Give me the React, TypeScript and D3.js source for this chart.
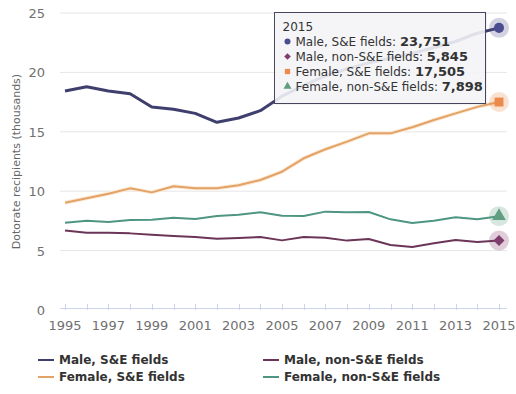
import React, { useEffect, useRef } from "react";
import * as d3 from "d3";

const years = [1995, 1996, 1997, 1998, 1999, 2000, 2001, 2002, 2003, 2004, 2005, 2006, 2007, 2008, 2009, 2010, 2011, 2012, 2013, 2014, 2015];

// thousands of doctorate recipients
const maleSE = [18.43, 18.8, 18.43, 18.2, 17.09, 16.9, 16.55, 15.8, 16.16, 16.78, 18.0, 18.9, 19.7, 20.3, 20.8, 21.2, 21.6, 22.1, 22.6, 23.3, 23.751];
const maleNonSE = [6.7, 6.51, 6.51, 6.45, 6.34, 6.23, 6.14, 6.0, 6.06, 6.14, 5.86, 6.14, 6.09, 5.84, 5.98, 5.47, 5.3, 5.61, 5.89, 5.72, 5.845];
const femaleSE = [9.03, 9.4, 9.79, 10.24, 9.9, 10.41, 10.24, 10.24, 10.5, 10.94, 11.64, 12.77, 13.53, 14.17, 14.87, 14.87, 15.38, 15.99, 16.55, 17.1, 17.505];
const femaleNonSE = [7.35, 7.52, 7.41, 7.58, 7.6, 7.77, 7.66, 7.91, 8.02, 8.22, 7.94, 7.91, 8.28, 8.22, 8.25, 7.63, 7.32, 7.52, 7.8, 7.63, 7.898];

const yTicks = [0, 5, 10, 15, 20, 25];
const xLabels = [1995, 1997, 1999, 2001, 2003, 2005, 2007, 2009, 2011, 2013, 2015];

const seriesNames = ["Male, S&E fields", "Male, non-S&E fields", "Female, S&E fields", "Female, non-S&E fields"];
const seriesData = [maleSE, maleNonSE, femaleSE, femaleNonSE];
const seriesColors = ["#3f3f6e", "#6b3558", "#e3a266", "#4f9682"];
const markerColors = ["#4b4b8f", "#7e3d6c", "#ec8a4c", "#5f9e80"];
const markerShapes = [d3.symbolCircle, d3.symbolSquare, d3.symbolSquare, d3.symbolTriangle];
const markerRotate = [0, 45, 0, 0];
const lineWidths = [3, 2, 2, 2];

const font = "'DejaVu Sans', Verdana, sans-serif";

const App = () => {
  const svgRef = useRef<SVGSVGElement>(null);

  useEffect(() => {
    const svg = d3.select(svgRef.current);
    svg.selectAll("*").remove();

    const x = d3.scaleLinear().domain([1995, 2015]).range([65, 499]);
    const y = d3.scaleLinear().domain([0, 25]).range([310, 13]);

    // grid
    svg
      .append("g")
      .selectAll("line")
      .data(yTicks.filter((t) => t > 0))
      .join("line")
      .attr("x1", 60)
      .attr("x2", 507)
      .attr("y1", (d) => y(d))
      .attr("y2", (d) => y(d))
      .attr("stroke", "#e6e6e6");

    // y labels
    svg
      .append("g")
      .selectAll("text")
      .data(yTicks)
      .join("text")
      .attr("x", 45)
      .attr("y", (d) => y(d) + 5)
      .attr("text-anchor", "end")
      .attr("font-family", font)
      .attr("font-size", 13)
      .attr("fill", "#707070")
      .text((d) => d);

    svg
      .append("text")
      .attr("transform", `translate(20,${y(12.5)}) rotate(-90)`)
      .attr("text-anchor", "middle")
      .attr("font-family", font)
      .attr("font-size", 11)
      .attr("fill", "#666")
      .text("Dotorate recipients (thousands)");

    // x axis
    const xAxis = svg.append("g");
    xAxis
      .append("line")
      .attr("x1", 60)
      .attr("x2", 507)
      .attr("y1", 308.5)
      .attr("y2", 308.5)
      .attr("stroke", "#ccd6eb");
    xAxis
      .selectAll(".tick")
      .data(years)
      .join("line")
      .attr("class", "tick")
      .attr("x1", (d) => Math.round(x(d)) + 0.5)
      .attr("x2", (d) => Math.round(x(d)) + 0.5)
      .attr("y1", 304)
      .attr("y2", 310)
      .attr("stroke", "#ccd6eb");
    xAxis
      .selectAll("text")
      .data(xLabels)
      .join("text")
      .attr("x", (d) => x(d))
      .attr("y", 330)
      .attr("text-anchor", "middle")
      .attr("font-family", font)
      .attr("font-size", 13)
      .attr("fill", "#707070")
      .text((d) => d);

    const line = d3
      .line<number>()
      .x((d, i) => x(years[i]))
      .y((d) => y(d));

    // soft glow for female S&E
    svg
      .append("path")
      .attr("d", line(femaleSE))
      .attr("fill", "none")
      .attr("stroke", "#fbe9d4")
      .attr("stroke-width", 4)
      .attr("stroke-linejoin", "round");

    const order = [3, 1, 2, 0];
    order.forEach((k) => {
      svg
        .append("path")
        .attr("d", line(seriesData[k]))
        .attr("fill", "none")
        .attr("stroke", seriesColors[k])
        .attr("stroke-width", lineWidths[k])
        .attr("stroke-linejoin", "round");
    });

    // hover markers at 2015
    const last = years.length - 1;
    seriesData.forEach((data, k) => {
      const cx = x(years[last]);
      const cy = y(data[last]);
      svg
        .append("circle")
        .attr("cx", cx)
        .attr("cy", cy)
        .attr("r", 10)
        .attr("fill", markerColors[k])
        .attr("opacity", 0.25);
      svg
        .append("path")
        .attr("transform", `translate(${cx},${cy}) rotate(${markerRotate[k]})`)
        .attr("d", d3.symbol().type(markerShapes[k]).size(k === 1 ? 60 : 80)())
        .attr("fill", markerColors[k]);
    });

    // tooltip
    const tip = svg.append("g").attr("transform", "translate(274.5,12.5)");
    tip
      .append("rect")
      .attr("x", 1)
      .attr("y", 1)
      .attr("width", 211)
      .attr("height", 91)
      .attr("fill", "#000")
      .attr("opacity", 0.1);
    tip
      .append("rect")
      .attr("width", 211)
      .attr("height", 91)
      .attr("fill", "rgba(247,247,250,0.88)")
      .attr("stroke", "#454560")
      .attr("stroke-width", 1);
    tip
      .append("text")
      .attr("x", 8)
      .attr("y", 18)
      .attr("font-family", font)
      .attr("font-size", 12)
      .attr("fill", "#333")
      .text("2015");
    seriesData.forEach((data, k) => {
      const ty = 33 + k * 15;
      tip
        .append("path")
        .attr("transform", `translate(${13},${ty - 4}) rotate(${markerRotate[k]})`)
        .attr("d", d3.symbol().type(markerShapes[k]).size(k === 1 ? 22 : 28)())
        .attr("fill", markerColors[k]);
      const t = tip
        .append("text")
        .attr("x", 21)
        .attr("y", ty)
        .attr("font-family", font)
        .attr("font-size", 12)
        .attr("fill", "#333");
      t.append("tspan").text(`${seriesNames[k]}: `);
      t.append("tspan")
        .attr("font-weight", "bold")
        .attr("font-size", 13)
        .text(d3.format(",")(Math.round(data[last] * 1000)));
    });

    // legend
    const legendPos = [
      [38, 360],
      [263, 360],
      [38, 377],
      [263, 377],
    ];
    seriesNames.forEach((name, k) => {
      const [lx, ly] = legendPos[k];
      svg
        .append("line")
        .attr("x1", lx)
        .attr("x2", lx + 16)
        .attr("y1", ly)
        .attr("y2", ly)
        .attr("stroke", seriesColors[k])
        .attr("stroke-width", 2);
      svg
        .append("text")
        .attr("x", lx + 21)
        .attr("y", ly + 4)
        .attr("font-family", font)
        .attr("font-size", 12)
        .attr("font-weight", "bold")
        .attr("fill", "#333")
        .text(name);
    });
  }, []);

  return <svg ref={svgRef} width={516} height={394} style={{ position: "absolute", left: 0, top: 0, background: "#fff" }} />;
};

export default App;
